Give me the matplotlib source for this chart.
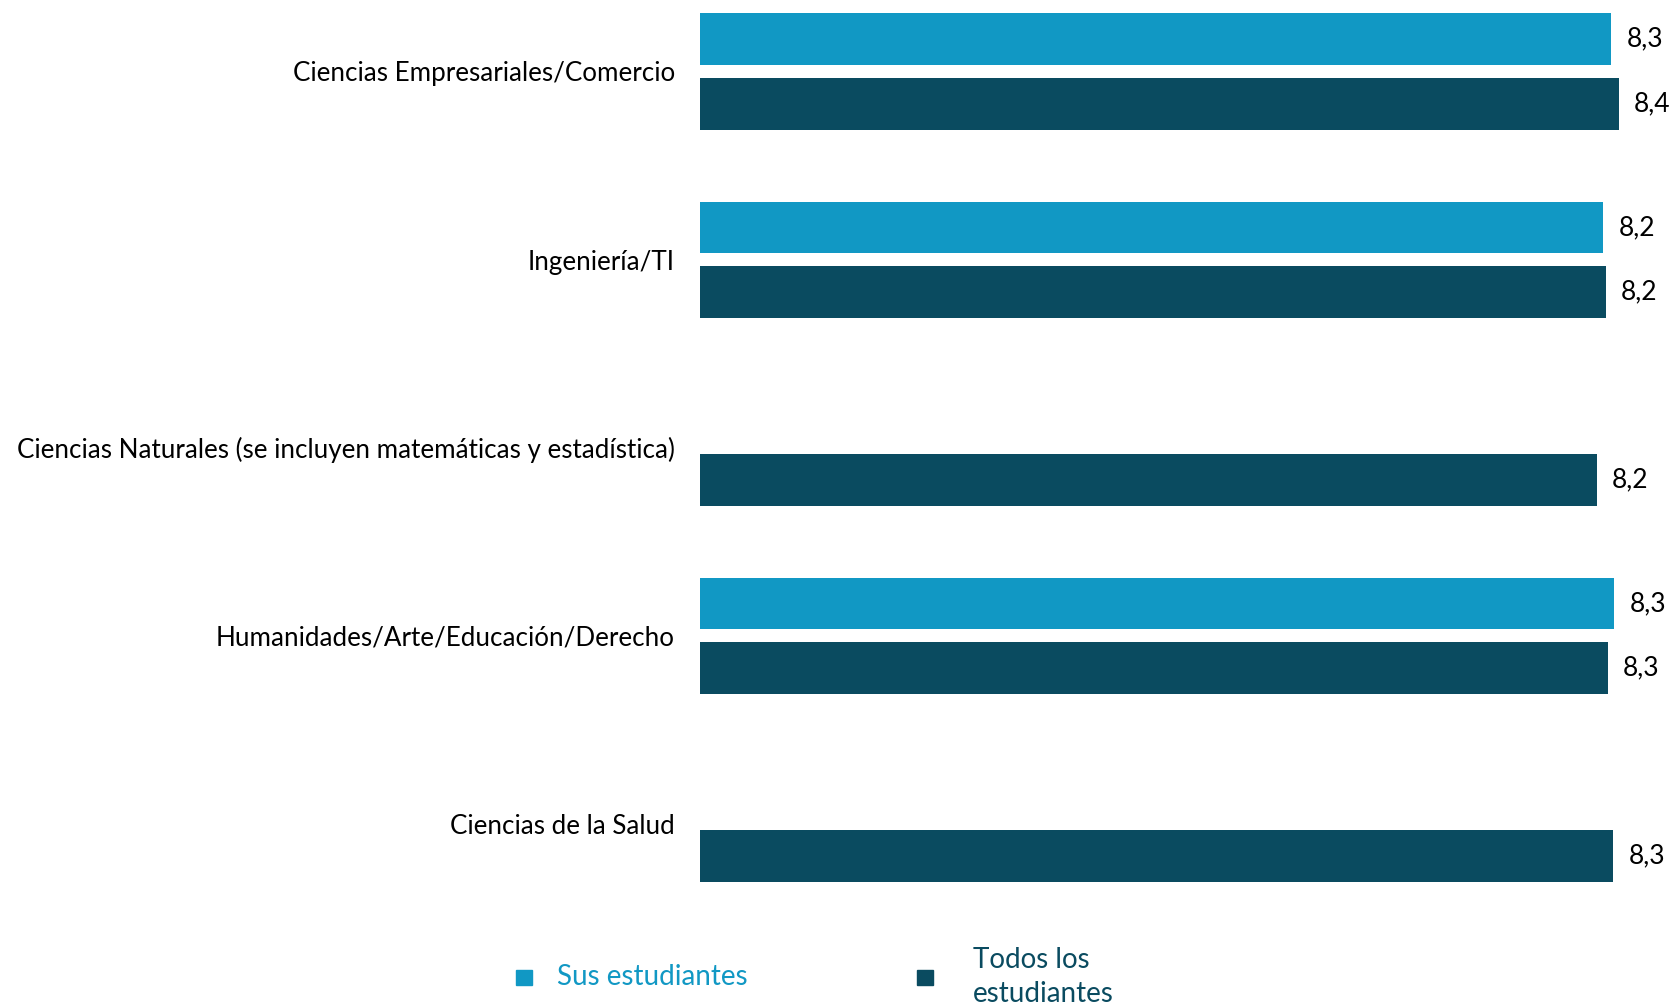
import numpy as np
import matplotlib
matplotlib.use("Agg")
import matplotlib.pyplot as plt
from matplotlib.patches import Rectangle

# data
categories = ["Ciencias Empresariales/Comercio",
              "Ingeniería/TI",
              "Ciencias Naturales (se incluyen matemáticas y estadística)",
              "Humanidades/Arte/Educación/Derecho",
              "Ciencias de la Salud"]
sus_estudiantes = [8.29, 8.22, np.nan, 8.32, np.nan]
todos_estudiantes = [8.36, 8.24, 8.16, 8.26, 8.31]
series_names = ["Sus estudiantes", "Todos los\nestudiantes"]

light = "#1198C4"
dark = "#0A4B60"

plt.rcParams['font.family'] = ['Lato', 'DejaVu Sans']

W, H = 1673, 1007
fig = plt.figure(figsize=(W / 100, H / 100), dpi=100)
ax = fig.add_axes([700 / W, 1 - 900 / H, 1 - 700 / W, 900 / H])

y = np.arange(len(categories))
h = 0.274
off = 0.1715
ax.barh(y - off, sus_estudiantes, height=h, color=light)
ax.barh(y + off, todos_estudiantes, height=h, color=dark)

# value labels
for yi, v in zip(y - off, sus_estudiantes):
    if not np.isnan(v):
        ax.annotate(f"{v:.1f}".replace(".", ","), (v, yi), xytext=(11, 0),
                    textcoords="offset points", va="center", ha="left",
                    fontsize=19, color="black")
for yi, v in zip(y + off, todos_estudiantes):
    ax.annotate(f"{v:.1f}".replace(".", ","), (v, yi), xytext=(11, 0),
                textcoords="offset points", va="center", ha="left",
                fontsize=19, color="black")

ax.set_xlim(0, 973 / 109.9)
ax.set_ylim(4.404, -0.38)
ax.set_yticks(y)
ax.set_yticklabels(categories, fontsize=18.7)
ax.tick_params(axis="y", length=0, pad=18)
ax.set_xticks([])
for s in ax.spines.values():
    s.set_visible(False)

# legend
fig.patches.append(Rectangle((516 / W, 1 - 985 / H), 16 / W, 15 / H,
                             transform=fig.transFigure, color=light))
fig.text(557 / W, 1 - 977 / H, series_names[0], color=light, fontsize=20,
         va="center", ha="left")
fig.patches.append(Rectangle((917 / W, 1 - 985 / H), 16 / W, 15 / H,
                             transform=fig.transFigure, color=dark))
fig.text(973 / W, 1 - 977 / H, series_names[1], color=dark, fontsize=20,
         va="center", ha="left", linespacing=1.4)

plt.savefig("out.png", dpi=100)
